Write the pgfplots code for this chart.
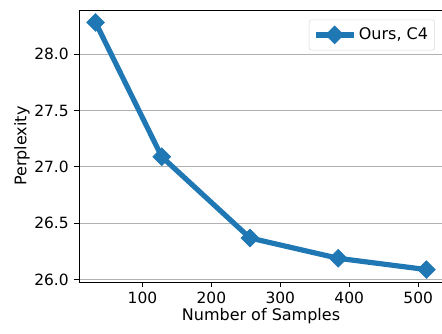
\documentclass[border=0pt]{standalone}
\usepackage{fontspec}
\setmainfont{DejaVu Sans}
\usepackage{pgfplots}
\pgfplotsset{compat=1.18}
\definecolor{tabblue}{HTML}{1F77B4}
\begin{document}
\fontsize{12}{14}\selectfont
\begin{tikzpicture}
\useasboundingbox (-59.25pt,-38.25pt) rectangle (272.25pt,211.5pt);
\begin{axis}[
  at={(0,0)}, anchor=south west,
  scale only axis, width=273pt, height=204pt,
  xmin=8, xmax=536, ymin=25.98, ymax=28.39,
  xtick={100,200,300,400,500},
  ytick={26,26.5,27,27.5,28},
  yticklabel style={/pgf/number format/.cd, fixed, fixed zerofill, precision=1},
  /pgf/number format/assume math mode=true,
  tick label style={font=\fontsize{11.6}{13}\selectfont},
  tick align=outside, tick pos=left,
  major tick length=3.5pt,
  every tick/.style={black, line width=0.6pt},
  axis line style={line width=0.6pt},
  ymajorgrids, grid style={color=black!31, line width=0.6pt},
  xlabel={Number of Samples}, ylabel={Perplexity},
  every axis x label/.style={at={(axis description cs:0.5,0)}, anchor=center, yshift=-25.5pt},
  every axis y label/.style={at={(axis description cs:-0.157,0.5)}, anchor=center, rotate=90},
  legend style={at={(0.978,0.965)}, anchor=north east, draw=black!15, rounded corners=2pt, fill=white, inner xsep=3pt, inner ysep=4pt, font=\fontsize{12}{14}\selectfont, legend cell align=left},
  legend image code/.code={\draw[#1, mark repeat=2, mark phase=2] plot coordinates {(0cm,0cm) (0.5cm,0cm) (1cm,0cm)};},
]
\addplot[color=tabblue, line width=3.9pt, mark=square*, mark size=4.7pt, mark options={rotate=45, line width=0.5pt, fill=tabblue}] coordinates {
(32,28.28) (128,27.09) (256,26.37) (384,26.19) (512,26.09)};
\addlegendentry{Ours, C4}
\end{axis}
\end{tikzpicture}
\end{document}
